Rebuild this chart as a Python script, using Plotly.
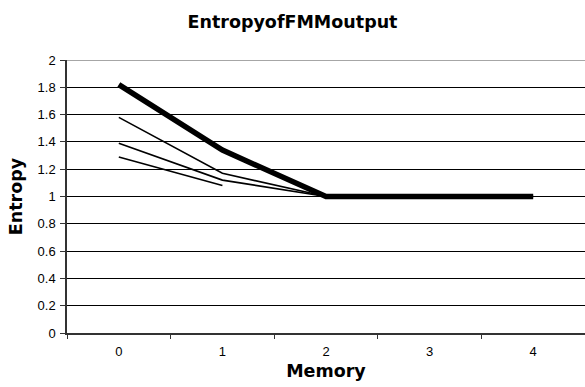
import plotly.graph_objects as go

memory = ["0", "1", "2", "3", "4"]
thick_series = [1.82, 1.34, 1.0, 1.0, 1.0]
series_a = [1.58, 1.17, 1.0, 1.0, 1.0]
series_b = [1.39, 1.12, 1.0, 1.0, 1.0]
series_c = [1.29, 1.08]
y_ticks = [0, 0.2, 0.4, 0.6, 0.8, 1, 1.2, 1.4, 1.6, 1.8, 2]
y_labels = ["0", "0.2", "0.4", "0.6", "0.8", "1", "1.2", "1.4", "1.6", "1.8", "2"]

title_font = "DejaVu Sans, Liberation Sans, Arial, sans-serif"

fig = go.Figure()
for ys in [series_a, series_b, series_c]:
    fig.add_trace(go.Scatter(x=memory[:len(ys)], y=ys, mode="lines",
                             line=dict(color="black", width=1.6), showlegend=False))
fig.add_trace(go.Scatter(x=memory, y=thick_series, mode="lines",
                         line=dict(color="black", width=5.5), showlegend=False))

fig.update_layout(
    width=585, height=387,
    margin=dict(l=67, r=0, t=60, b=54),
    paper_bgcolor="white", plot_bgcolor="white",
    font=dict(family="Liberation Sans, Arial, sans-serif", color="black", size=13),
    title=dict(text="<b>EntropyofFMMoutput</b>", x=0.5, xanchor="center", y=0.943, yanchor="middle",
               font=dict(size=17.5, family=title_font)),
    xaxis=dict(type="category", range=[-0.5, 4.5], tickson="boundaries", ticks="outside",
               ticklen=4, tickcolor="#333", showline=True, linecolor="#333", linewidth=1.5,
               showgrid=False, ticklabelstandoff=6,
               title=dict(text="<b>Memory</b>", font=dict(size=17.5, family=title_font), standoff=6)),
    yaxis=dict(range=[0, 2], tickvals=y_ticks, ticktext=y_labels, ticks="outside", ticklen=5,
               tickcolor="#333", showline=True, linecolor="#333", linewidth=1.5, showgrid=True,
               gridcolor="black", gridwidth=1, zeroline=False, ticklabelstandoff=2,
               title=dict(text="<b>Entropy</b>", font=dict(size=17.5, family=title_font), standoff=10)),
    shapes=[dict(type="line", xref="paper", yref="y", x0=0, x1=1, y0=2, y1=2,
                 line=dict(color="#888", width=1.5))],
)
fig.write_html("out.html")
